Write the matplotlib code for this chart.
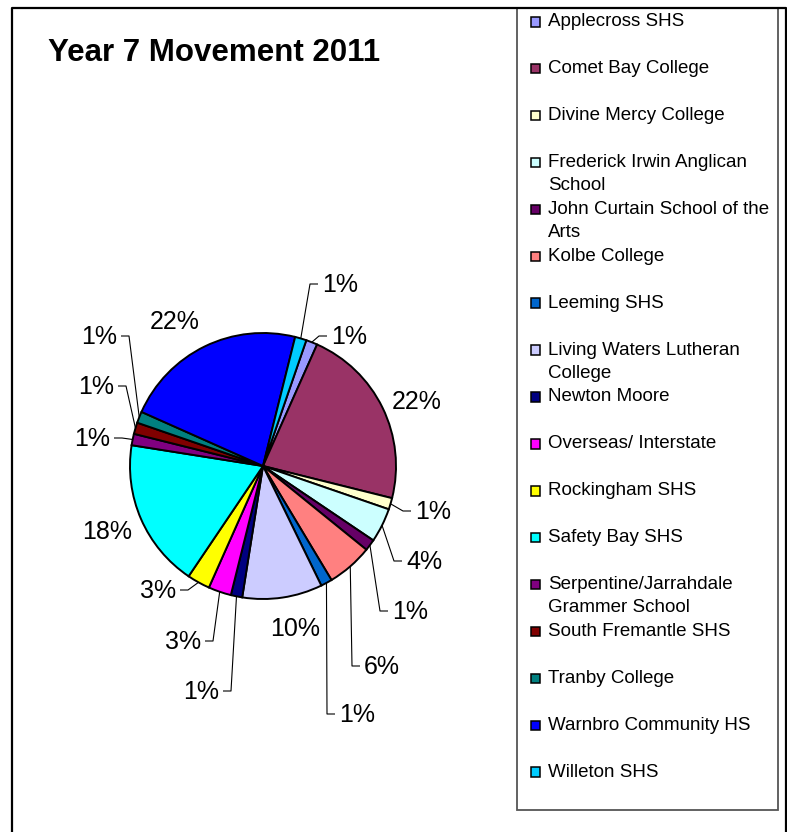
import matplotlib
matplotlib.use('Agg')
import matplotlib.pyplot as plt
from matplotlib.patches import Rectangle
import numpy as np

# ---------------- data ----------------
schools = ["Applecross SHS", "Comet Bay College", "Divine Mercy College",
           "Frederick Irwin Anglican\nSchool", "John Curtain School of the\nArts",
           "Kolbe College", "Leeming SHS", "Living Waters Lutheran\nCollege",
           "Newton Moore", "Overseas/ Interstate", "Rockingham SHS",
           "Safety Bay SHS", "Serpentine/Jarrahdale\nGrammer School",
           "South Fremantle SHS", "Tranby College", "Warnbro Community HS",
           "Willeton SHS"]
students = [1, 16, 1, 3, 1, 4, 1, 7, 1, 2, 2, 13, 1, 1, 1, 16, 1]
colors = ["#9999FF", "#993366", "#FFFFCC", "#CCFFFF", "#660066", "#FF8080",
          "#0066CC", "#CCCCFF", "#000080", "#FF00FF", "#FFFF00", "#00FFFF",
          "#800080", "#800000", "#008080", "#0000FF", "#00CCFF"]
title = "Year 7 Movement 2011"

# ---------------- layout (pixel coordinates, y down) ----------------
W, H = 787, 832
pie_center = (263, 466)
pie_radius = 133
label_pos = [(349, 335), (417, 400), (433, 510), (424, 560), (410, 610),
             (382, 665), (357, 713), (295, 627), (201, 690), (183, 640),
             (158, 589), (107, 530), (92, 437), (96, 385), (99, 335),
             (175, 320), (340, 283)]
legend_y0, legend_dy = 19.5, 46.9
font = "Liberation Sans"

fig = plt.figure(figsize=(W / 100, H / 100), dpi=100)
ax = fig.add_axes([0, 0, 1, 1])


def Y(py):
    return H - py


total = sum(students)
wedges, _ = ax.pie(students, colors=colors, startangle=71, counterclock=False,
                   center=(pie_center[0], Y(pie_center[1])), radius=pie_radius,
                   wedgeprops=dict(edgecolor="black", linewidth=1.4))
ax.set_xlim(0, W)
ax.set_ylim(0, H)
ax.set_aspect("equal")
ax.axis("off")

# percentage labels with leader lines
pct_size = 18
em = pct_size * 100 / 72
for w, v, (lx, ly) in zip(wedges, students, label_pos):
    pct = 100 * v / total
    txt = f"{round(pct):.0f}%"
    ax.text(lx, Y(ly + 0.358 * em), txt, ha="center", va="baseline",
            fontsize=pct_size, family=font, color="black")
    if pct < 8:
        mid = np.deg2rad((w.theta1 + w.theta2) / 2)
        px = pie_center[0] + pie_radius * np.cos(mid)
        py = pie_center[1] - pie_radius * np.sin(mid)
        halfw = 0.72 * em * len(txt) / 2
        if lx > px:
            edge = lx - halfw
            cx, ex = edge - 12, edge - 4
        else:
            edge = lx + halfw
            cx, ex = edge + 12, edge + 4
        ax.plot([px, cx, ex], [Y(py), Y(ly + 1), Y(ly + 1)], color="black",
                lw=0.8, solid_capstyle="butt")

# title
ax.text(48, Y(61), title, ha="left", va="baseline", fontsize=22.5,
        fontweight="bold", family=font)

# legend box
ax.add_patch(Rectangle((517, Y(810)), 778 - 517, 810 - 8, fill=False,
                       edgecolor="#555555", lw=1.3, zorder=5))
leg_size = 13.5
lem = leg_size * 100 / 72
for i, (name, c) in enumerate(zip(schools, colors)):
    y = legend_y0 + i * legend_dy
    ax.add_patch(Rectangle((530.5, Y(y + 7)), 9.5, 9.5, facecolor=c,
                           edgecolor="black", lw=1.1, zorder=6))
    for j, line in enumerate(name.split("\n")):
        ax.text(548, Y(y + j * 23 + 0.358 * lem), line, ha="left",
                va="baseline", fontsize=leg_size, family=font)

# outer chart frame
ax.plot([12, 12, 786, 786], [Y(840), Y(8), Y(8), Y(840)], color="black",
        lw=1.6, zorder=7, clip_on=False)

fig.savefig("out.png", dpi=100)
